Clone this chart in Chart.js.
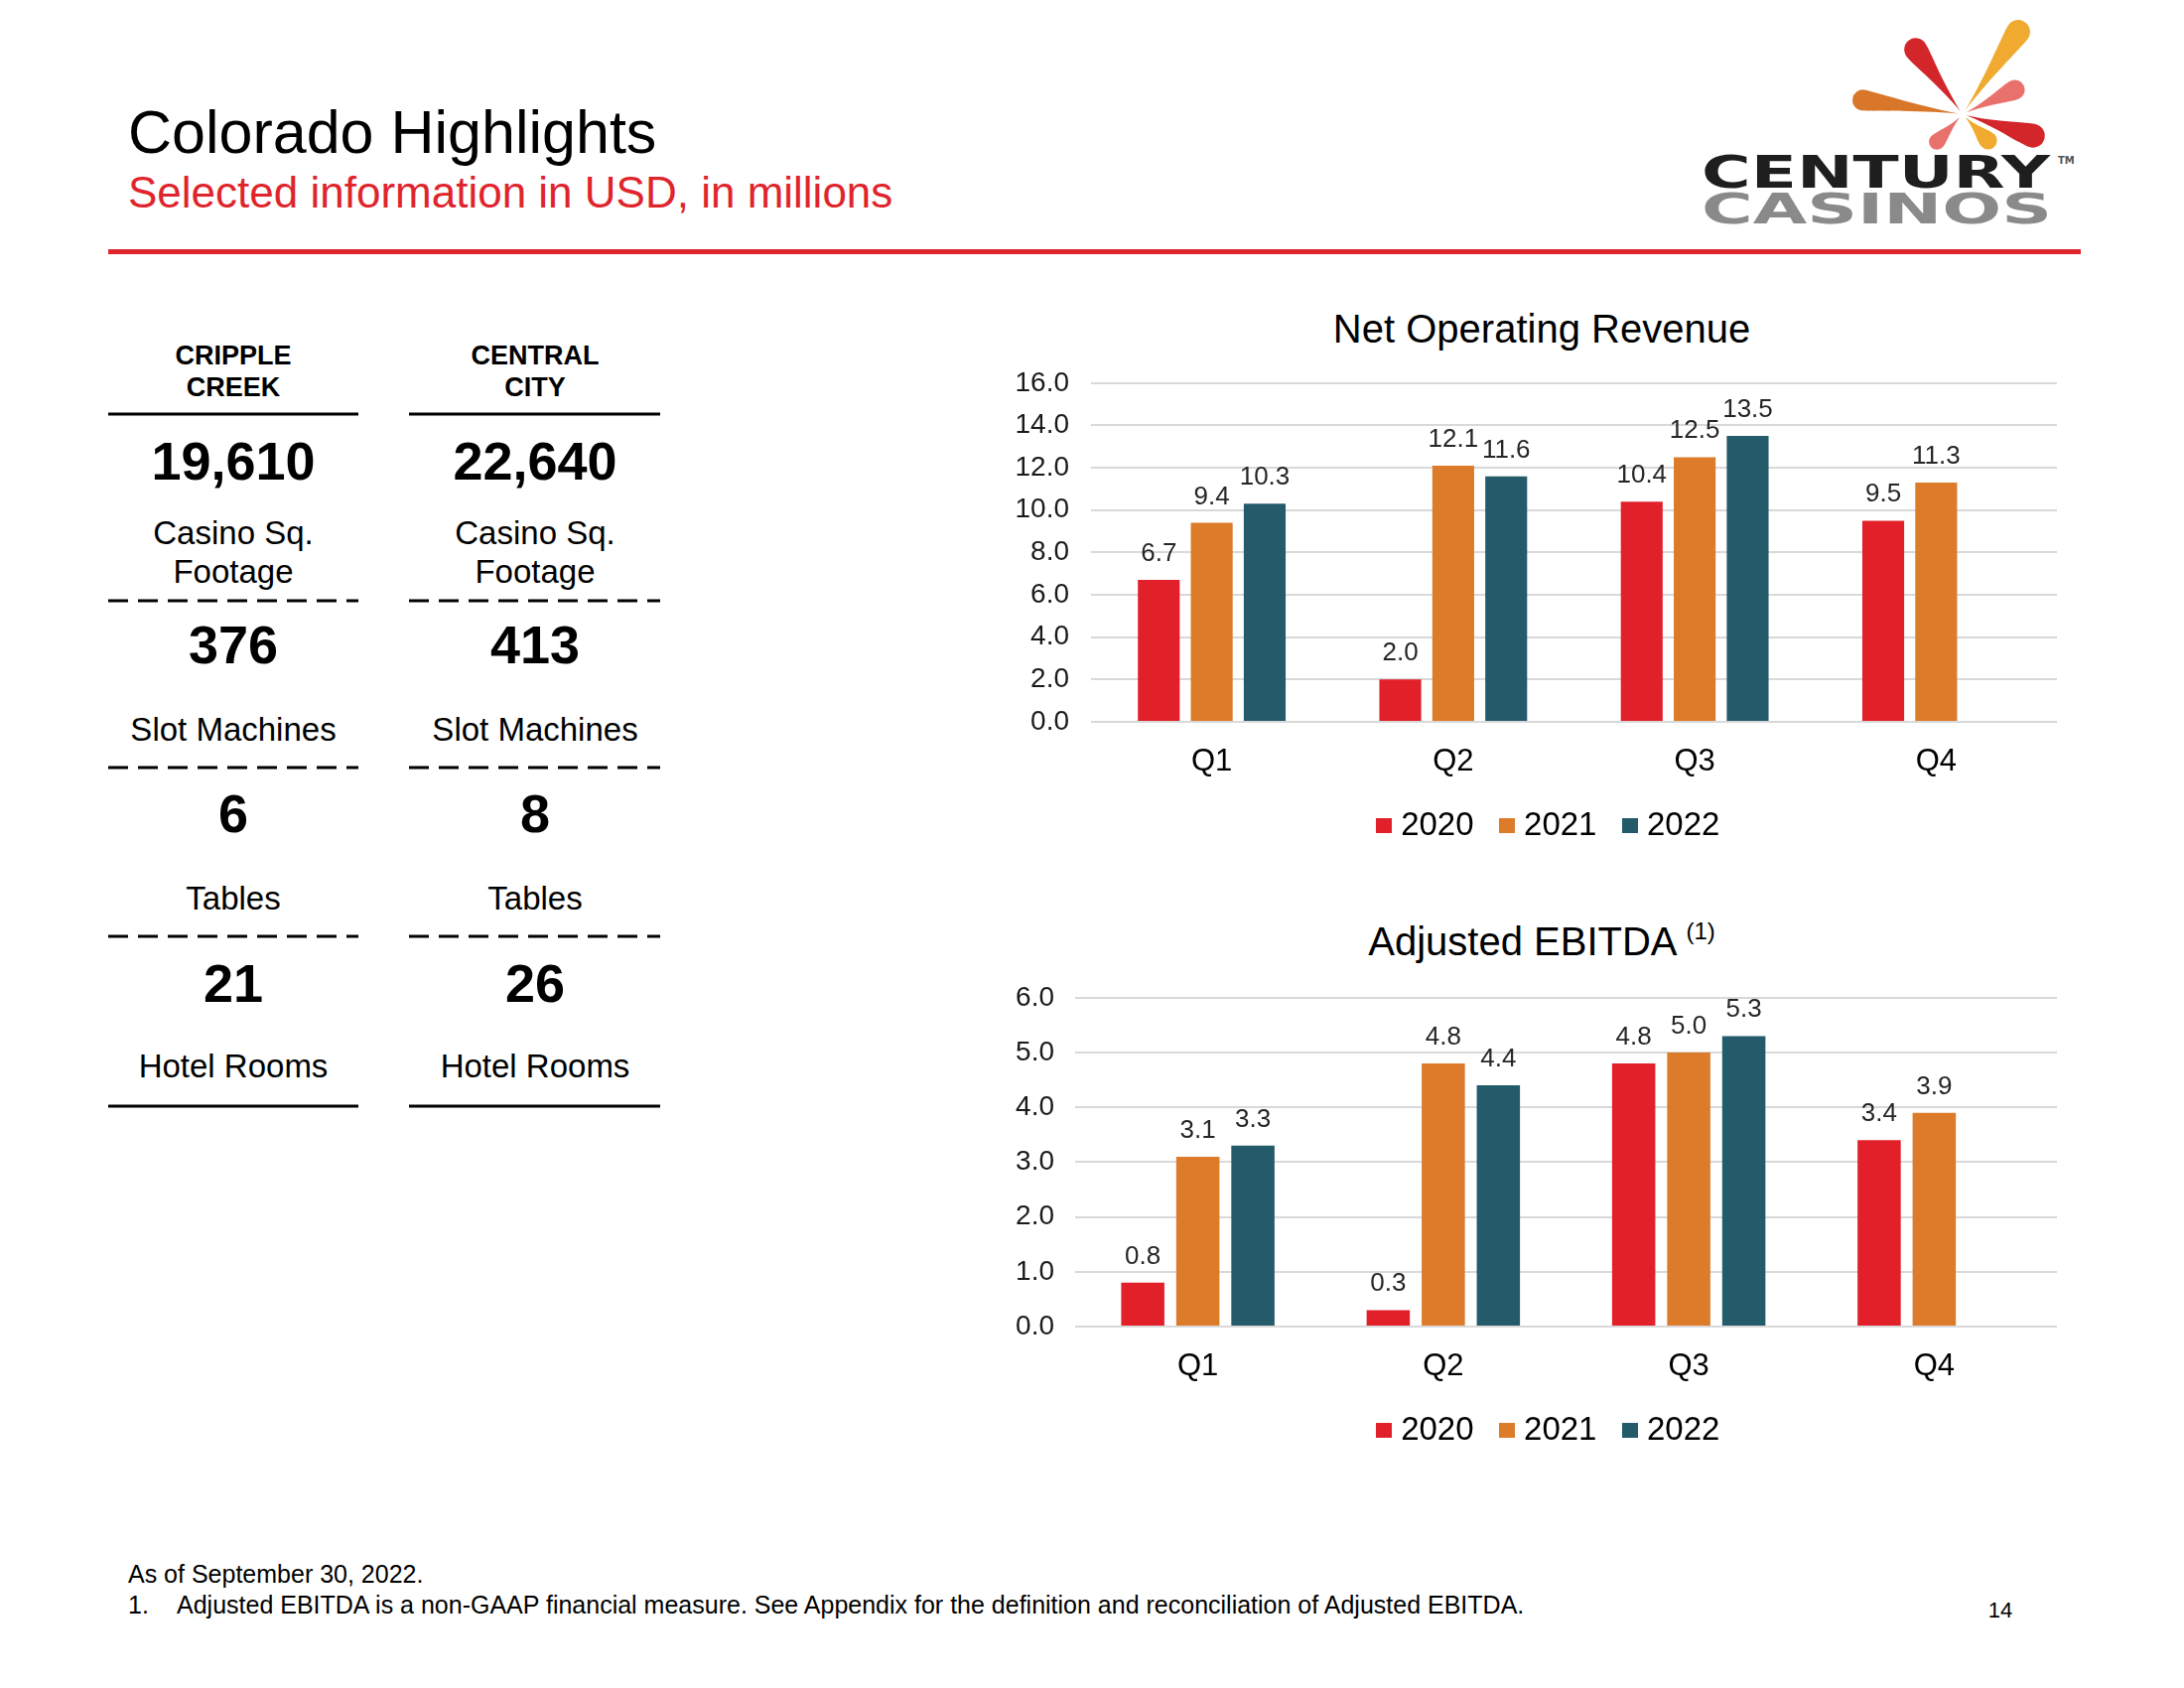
<!DOCTYPE html>
<html>
<head>
<meta charset="utf-8">
<title>Colorado Highlights</title>
<script src="https://cdn.jsdelivr.net/npm/chart.js@4.4.0/dist/chart.umd.min.js"></script>
<style>
  html, body { margin: 0; padding: 0; background: #fff; }
  body { width: 2200px; height: 1700px; position: relative; overflow: hidden;
         font-family: "Liberation Sans", Arial, sans-serif; color: #000; }
  .t { position: absolute; white-space: nowrap; line-height: 1; }
  .c { transform: translateX(-50%); text-align: center; }
  .b { font-weight: bold; }
  canvas { position: absolute; }
  svg { position: absolute; }
</style>
</head>
<body>

<div class="t" style="left:129px; top:103px; font-size:61px;">Colorado Highlights</div>
<div class="t" style="left:129px; top:172px; font-size:44px; color:#E0242C;">Selected information in USD, in millions</div>
<div style="position:absolute; left:109px; top:251px; width:1987px; height:5px; background:#E0242C;"></div>

<svg id="logo" style="left:1680px; top:0;" width="420" height="250"></svg>
<svg id="table-lines" style="left:0; top:0;" width="700" height="1150"></svg>
<div id="table"></div>

<div class="t c" style="left:1553px; top:311px; font-size:40px;">Net Operating Revenue</div>
<div class="t c" style="left:1553px; top:928px; font-size:40px;">Adjusted EBITDA <span style="font-size:24px; position:relative; top:-16px;">(1)</span></div>

<canvas id="revenueChart" width="1100" height="513" style="left:1000px; top:347px;"></canvas>
<canvas id="ebitdaChart" width="1100" height="502" style="left:1000px; top:967px;"></canvas>

<div class="t" style="left:129px; top:1573px; font-size:25px;">As of September 30, 2022.</div>
<div class="t" style="left:129px; top:1604px; font-size:25px;">1.</div>
<div class="t" style="left:178px; top:1604px; font-size:25px;">Adjusted EBITDA is a non-GAAP financial measure. See Appendix for the definition and reconciliation of Adjusted EBITDA.</div>
<div class="t c" style="left:2015px; top:1611px; font-size:22px;">14</div>

<script>
// --- Data ---
const quarters = ['Q1', 'Q2', 'Q3', 'Q4'];
const years = ['2020', '2021', '2022'];

const revenue2020 = [6.7, 2.0, 10.4, 9.5];
const revenue2021 = [9.4, 12.1, 12.5, 11.3];
const revenue2022 = [10.3, 11.6, 13.5, null];

const ebitda2020 = [0.8, 0.3, 4.8, 3.4];
const ebitda2021 = [3.1, 4.8, 5.0, 3.9];
const ebitda2022 = [3.3, 4.4, 5.3, null];

const revenueTicks = [0, 2, 4, 6, 8, 10, 12, 14, 16];
const ebitdaTicks = [0, 1, 2, 3, 4, 5, 6];

const properties = [['CRIPPLE', 'CREEK'], ['CENTRAL', 'CITY']];
const squareFootage = ['19,610', '22,640'];
const slotMachines = ['376', '413'];
const tableCount = ['6', '8'];
const hotelRooms = ['21', '26'];

const yearColors = ['#E2202A', '#DC7B2A', '#235B6A'];
const FONT = '"Liberation Sans", Arial, sans-serif';

// --- Property table (left) ---
const table = document.getElementById('table');
const colCenters = [235, 539];
const colSpans = [[109, 361], [412, 665]];

function place(text, cx, cy, size, bold) {
    const d = document.createElement('div');
    d.className = 't c' + (bold ? ' b' : '');
    d.style.left = cx + 'px';
    d.style.top = (cy - 0.49 * size) + 'px';
    d.style.fontSize = size + 'px';
    d.textContent = text;
    table.appendChild(d);
}

colCenters.forEach((cx, i) => {
    place(properties[i][0], cx, 358, 27, true);
    place(properties[i][1], cx, 390, 27, true);
    place(squareFootage[i], cx, 463, 54, true);
    place('Casino Sq.', cx, 536, 33);
    place('Footage', cx, 575, 33);
    place(slotMachines[i], cx, 648, 54, true);
    place('Slot Machines', cx, 734, 33);
    place(tableCount[i], cx, 818, 54, true);
    place('Tables', cx, 904, 33);
    place(hotelRooms[i], cx, 989, 54, true);
    place('Hotel Rooms', cx, 1073, 33);
});

const lineSvg = document.getElementById('table-lines');
const NS = 'http://www.w3.org/2000/svg';
colSpans.forEach(([x1, x2]) => {
    [[417, false], [605, true], [773, true], [943, true], [1114, false]].forEach(([y, dashed]) => {
        const l = document.createElementNS(NS, 'line');
        l.setAttribute('x1', x1); l.setAttribute('x2', x2);
        l.setAttribute('y1', y); l.setAttribute('y2', y);
        l.setAttribute('stroke', '#000');
        l.setAttribute('stroke-width', 3);
        if (dashed) l.setAttribute('stroke-dasharray', '20 10');
        lineSvg.appendChild(l);
    });
});

// --- Logo ---
const logo = document.getElementById('logo');
const petals = [
    // angle, length, width, color
    [188, 112, 21, '#D8762A'],
    [234, 92, 23, '#D3262B'],
    [-56, 112, 24, '#F0AA30'],
    [-25, 68, 20, '#E9716B'],
    [17, 86, 24, '#D3262B'],
    [46, 46, 18, '#F0AA30'],
    [133, 46, 16, '#E9716B']
];
petals.forEach(([a, L, W, col]) => {
    const p = document.createElementNS(NS, 'path');
    const d = `M4,0 C${L * 0.45},${-W * 0.12} ${L - W * 0.9},${-W / 2} ${L - W / 2},${-W / 2} ` +
              `A${W / 2},${W / 2} 0 0 1 ${L - W / 2},${W / 2} C${L - W * 0.9},${W / 2} ${L * 0.45},${W * 0.12} 4,0 Z`;
    p.setAttribute('d', d);
    p.setAttribute('fill', col);
    p.setAttribute('transform', `translate(297,115) rotate(${a})`);
    logo.appendChild(p);
});
function logoText(txt, x, y, size, len, fill) {
    const t = document.createElementNS(NS, 'text');
    t.setAttribute('x', x); t.setAttribute('y', y);
    t.setAttribute('font-family', '"DejaVu Sans", sans-serif');
    t.setAttribute('font-weight', 'bold');
    t.setAttribute('font-size', size);
    t.setAttribute('fill', fill);
    if (len) { t.setAttribute('textLength', len); t.setAttribute('lengthAdjust', 'spacingAndGlyphs'); }
    t.textContent = txt;
    logo.appendChild(t);
}
logoText('CENTURY', 34, 189, 44, 351, '#1e1e1e');
logoText('CASINOS', 34, 225, 42, 353, '#8a8a8a');
logoText('TM', 393, 165, 10, 0, '#555');

// --- Charts ---
// small legend swatches (16x15 squares)
const swatches = yearColors.map(col => {
    const c = document.createElement('canvas');
    c.width = 16; c.height = 15;
    const g = c.getContext('2d');
    g.fillStyle = col;
    g.fillRect(0, 0, 16, 15);
    return c;
});

const valueLabels = {
    id: 'valueLabels',
    afterDatasetsDraw(chart) {
        const ctx = chart.ctx;
        ctx.save();
        ctx.font = '26px ' + FONT;
        ctx.fillStyle = '#262626';
        ctx.textAlign = 'center';
        ctx.textBaseline = 'alphabetic';
        chart.data.datasets.forEach((ds, i) => {
            chart.getDatasetMeta(i).data.forEach((bar, j) => {
                const v = ds.data[j];
                if (v === null || v === undefined) return;
                ctx.fillText(v.toFixed(1), bar.x, bar.y - 19);
            });
        });
        ctx.restore();
    }
};

// legend sits a bit right of the canvas centre in the original
const legendNudge = {
    id: 'legendNudge',
    afterLayout(chart) {
        chart.legend.left += 27;
        chart.legend.right += 27;
    }
};

function makeChart(id, series, ticks, axisWidth, tickPad, pad, catPct, barPct) {
    return new Chart(document.getElementById(id), {
        type: 'bar',
        data: {
            labels: quarters,
            datasets: series.map((d, i) => ({
                label: years[i], data: d, backgroundColor: yearColors[i],
                categoryPercentage: catPct, barPercentage: barPct
            }))
        },
        options: {
            responsive: false, animation: false, devicePixelRatio: 1,
            layout: { padding: pad },
            plugins: {
                legend: {
                    position: 'bottom',
                    labels: {
                        usePointStyle: true, pointStyleWidth: 1, boxHeight: 15,
                        padding: 33, color: '#000', font: { size: 33, family: FONT },
                        generateLabels: chart => Chart.defaults.plugins.legend.labels.generateLabels(chart)
                            .map((item, i) => Object.assign(item, { pointStyle: swatches[i] }))
                    }
                },
                tooltip: { enabled: false }
            },
            scales: {
                x: {
                    grid: { display: false }, border: { display: false },
                    ticks: { color: '#000', font: { size: 31, family: FONT }, padding: 14 },
                    afterFit: s => { s.height = 55; }
                },
                y: {
                    min: ticks[0], max: ticks[ticks.length - 1],
                    afterBuildTicks: s => { s.ticks = ticks.map(v => ({ value: v })); },
                    ticks: { color: '#1a1a1a', font: { size: 28, family: FONT }, padding: tickPad, callback: v => v.toFixed(1) },
                    grid: { color: '#d9d9d9', lineWidth: 2, drawTicks: false },
                    border: { display: false },
                    afterFit: s => { s.width = axisWidth; }
                }
            }
        },
        plugins: [valueLabels, legendNudge]
    });
}

makeChart('revenueChart', [revenue2020, revenue2021, revenue2022], revenueTicks, 99, 22,
    { top: 0, right: 28, bottom: 2, left: 0 }, 0.658, 0.79);
makeChart('ebitdaChart', [ebitda2020, ebitda2021, ebitda2022], ebitdaTicks, 83, 21,
    { top: 0, right: 28, bottom: 2, left: 0 }, 0.673, 0.785);
</script>
</body>
</html>
